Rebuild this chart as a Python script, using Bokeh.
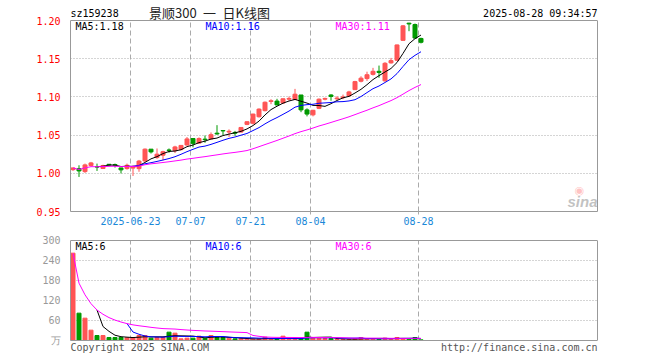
import numpy as np
import pandas as pd
from bokeh.plotting import figure
from bokeh.layouts import column
from bokeh.models import (FixedTicker, Label, Range1d, ColumnDataSource,
                          NumeralTickFormatter, LinearAxis, Span)
from bokeh.embed import file_html
from bokeh.resources import INLINE

# ---------------- data ----------------
dates = [
    "2025-06-09", "2025-06-10", "2025-06-11", "2025-06-12", "2025-06-13",
    "2025-06-16", "2025-06-17", "2025-06-18", "2025-06-19", "2025-06-20",
    "2025-06-23", "2025-06-24", "2025-06-25", "2025-06-26", "2025-06-27",
    "2025-06-30", "2025-07-01", "2025-07-02", "2025-07-03", "2025-07-04",
    "2025-07-07", "2025-07-08", "2025-07-09", "2025-07-10", "2025-07-11",
    "2025-07-14", "2025-07-15", "2025-07-16", "2025-07-17", "2025-07-18",
    "2025-07-21", "2025-07-22", "2025-07-23", "2025-07-24", "2025-07-25",
    "2025-07-28", "2025-07-29", "2025-07-30", "2025-07-31", "2025-08-01",
    "2025-08-04", "2025-08-05", "2025-08-06", "2025-08-07", "2025-08-08",
    "2025-08-11", "2025-08-12", "2025-08-13", "2025-08-14", "2025-08-15",
    "2025-08-18", "2025-08-19", "2025-08-20", "2025-08-21", "2025-08-22",
    "2025-08-25", "2025-08-26", "2025-08-27", "2025-08-28",
]
opens = [
    1.0048, 1.0061, 1.0022, 1.0101, 1.0086, 1.0063, 1.0118, 1.0115, 1.0070, 1.0062,
    1.0068, 1.0061, 1.0162, 1.0316, 1.0206, 1.0237, 1.0305, 1.0295, 1.0310, 1.0370,
    1.0455, 1.0395, 1.0447, 1.0450, 1.0525, 1.0560, 1.0540, 1.0535, 1.0540, 1.0640,
    1.0655, 1.0740, 1.0820, 1.0940, 1.0945, 1.0920, 1.0970, 1.0965, 1.1025, 1.0830,
    1.0765, 1.0850, 1.0970, 1.1025, 1.0975, 1.0990, 1.1015, 1.1095, 1.1205, 1.1240,
    1.1295, 1.1335, 1.1210, 1.1445, 1.1480, 1.1740, 1.1965, 1.1947, 1.1765,
]
highs = [
    1.0075, 1.0105, 1.0127, 1.0149, 1.0127, 1.0112, 1.0120, 1.0127, 1.0072, 1.0127,
    1.0105, 1.0175, 1.0325, 1.0318, 1.0325, 1.0295, 1.0325, 1.0360, 1.0370, 1.0475,
    1.0458, 1.0470, 1.0495, 1.0535, 1.0630, 1.0565, 1.0575, 1.0555, 1.0605, 1.0680,
    1.0780, 1.0850, 1.0940, 1.0970, 1.0975, 1.0980, 1.1005, 1.1105, 1.1025, 1.0850,
    1.0830, 1.0980, 1.0990, 1.1035, 1.1010, 1.1030, 1.1080, 1.1210, 1.1270, 1.1330,
    1.1380, 1.1410, 1.1455, 1.1510, 1.1685, 1.1940, 1.1970, 1.1960, 1.1775,
]
lows = [
    1.0031, 0.9952, 1.0005, 1.0092, 1.0031, 1.0057, 1.0092, 1.0075, 0.9998, 1.0048,
    0.9965, 1.0020, 1.0150, 1.0259, 1.0190, 1.0170, 1.0270, 1.0265, 1.0300, 1.0365,
    1.0340, 1.0385, 1.0400, 1.0445, 1.0505, 1.0500, 1.0475, 1.0490, 1.0535, 1.0630,
    1.0640, 1.0730, 1.0810, 1.0905, 1.0890, 1.0910, 1.0950, 1.0960, 1.0800, 1.0745,
    1.0745, 1.0840, 1.0955, 1.0950, 1.0960, 1.0970, 1.1000, 1.1090, 1.1190, 1.1210,
    1.1280, 1.1250, 1.1200, 1.1435, 1.1475, 1.1735, 1.1860, 1.1765, 1.1700,
]
closes = [
    1.0070, 1.0031, 1.0110, 1.0136, 1.0082, 1.0102, 1.0108, 1.0105, 1.0045, 1.0105,
    1.0085, 1.0160, 1.0316, 1.0280, 1.0250, 1.0283, 1.0300, 1.0345, 1.0365, 1.0450,
    1.0392, 1.0455, 1.0440, 1.0505, 1.0515, 1.0555, 1.0550, 1.0525, 1.0600, 1.0675,
    1.0775, 1.0840, 1.0930, 1.0950, 1.0895, 1.0975, 1.0980, 1.1035, 1.0830, 1.0775,
    1.0825, 1.0970, 1.0980, 1.1005, 1.0985, 1.1000, 1.1065, 1.1200, 1.1245, 1.1290,
    1.1335, 1.1320, 1.1440, 1.1475, 1.1680, 1.1930, 1.1955, 1.1770, 1.1715,
]
volumes = [  # 万
    262, 82, 67, 31, 15, 15, 9, 9, 9, 8,
    9, 15, 15, 7, 9, 9, 25, 22, 5, 7,
    7, 13, 7, 15, 9, 9, 7, 5, 5, 4,
    4, 5, 10, 4, 4, 13, 4, 4, 5, 25,
    7, 7, 6, 6, 3, 3, 3, 6, 9, 6,
    6, 4, 7, 6, 9, 6, 4, 9, 2,
]
tick_dates = ["2025-06-23", "2025-07-07", "2025-07-21", "2025-08-04", "2025-08-28"]
tick_labels = ["2025-06-23", "07-07", "07-21", "08-04", "08-28"]
price_ticks = [0.95, 1.00, 1.05, 1.10, 1.15, 1.20]
vol_ticks = [0, 60, 120, 180, 240, 300]
vol_tick_labels = ["万", "60", "120", "180", "240", "300"]
ma_price_text = ["MA5:1.18", "MA10:1.16", "MA30:1.11"]
ma_vol_text = ["MA5:6", "MA10:6", "MA30:6"]

# ---------------- derived ----------------
RED = "#ff5555"
GREEN = "#009900"
GRID = "#aaaaaa"
BORDER = "#999999"
MONO = "DejaVu Sans Mono"

n = len(dates)
xs = np.arange(n) + 2.5 / 6.0
o = np.array(opens); c = np.array(closes)
colors = [RED if cc >= oo else GREEN for oo, cc in zip(o, c)]
cs = pd.Series(closes)
ma5 = cs.rolling(5).mean().to_numpy()
ma10 = cs.rolling(10).mean().to_numpy()
ma30 = cs.rolling(30, min_periods=1).mean().to_numpy()
vs = pd.Series(volumes, dtype=float)
vma5 = vs.rolling(5).mean().to_numpy()
vma10 = vs.rolling(10).mean().to_numpy()
vma30 = vs.rolling(30, min_periods=1).mean().to_numpy()

src = ColumnDataSource(dict(
    x=xs, o=o, h=highs, l=lows, c=c,
    top=np.maximum(o, c), bottom=np.minimum(o, c),
    color=colors, v=volumes,
))

tick_idx = [dates.index(d) for d in tick_dates]
overrides = {i: lab for i, lab in zip(tick_idx, tick_labels)}

# page geometry (pixels)
FL, FR = 70, 597
XMAX = (FR - FL) / 6.0
P_TOP, P_BOT = 20, 211           # price box on the page
PPX = 0.25 / (P_BOT - P_TOP)     # price units per pixel
P_YMAX = 1.20 + P_TOP * PPX      # frame reaches the page top (room for header text)

# ---------------- price figure ----------------
p1 = figure(width=660, height=230, output_backend="svg", toolbar_location=None,
            x_range=Range1d(0, XMAX), y_range=Range1d(0.95, P_YMAX),
            min_border_left=FL, min_border_right=660 - FR,
            min_border_top=0, min_border_bottom=230 - P_BOT)
p1.background_fill_color = "white"
p1.border_fill_color = "white"
p1.outline_line_color = None

p1.xgrid.grid_line_color = None
p1.ygrid.ticker = FixedTicker(ticks=price_ticks)
p1.ygrid.grid_line_color = GRID
p1.ygrid.grid_line_dash = "1 2"
p1.segment(x0=tick_idx, y0=[0.95] * len(tick_idx), x1=tick_idx, y1=[1.20] * len(tick_idx),
           line_color=GRID, line_dash="5 3", line_width=1)
p1.add_layout(Span(location=1.20, dimension="width", line_color=BORDER, line_width=1))

p1.segment(x0="x", y0="l", x1="x", y1="h", line_color="color", line_width=1, source=src)
p1.vbar(x="x", width=4 / 6.0, top="top", bottom="bottom", fill_color="color",
        line_color="color", line_width=1, source=src)
p1.line(xs, ma5, line_color="black", line_width=1)
p1.line(xs, ma10, line_color="#0000ff", line_width=1)
p1.line(xs, ma30, line_color="#ff00ff", line_width=1)

p1.yaxis.ticker = FixedTicker(ticks=price_ticks)
p1.yaxis.bounds = (0.95, 1.20)
p1.yaxis.formatter = NumeralTickFormatter(format="0.00")
p1.yaxis.major_label_text_color = "#ff0000"
p1.yaxis.major_label_text_font = MONO
p1.yaxis.major_label_text_font_size = "10px"
p1.yaxis.axis_line_color = BORDER
p1.yaxis.major_tick_line_color = None
p1.yaxis.minor_tick_line_color = None
p1.yaxis.major_label_standoff = 4

p1.xaxis.ticker = FixedTicker(ticks=tick_idx)
p1.xaxis.major_label_overrides = overrides
p1.xaxis.major_label_text_color = "#1a88d8"
p1.xaxis.major_label_text_font = MONO
p1.xaxis.major_label_text_font_size = "10px"
p1.xaxis.axis_line_color = BORDER
p1.xaxis.major_tick_line_color = GRID
p1.xaxis.major_tick_out = 3
p1.xaxis.major_tick_in = 0
p1.xaxis.minor_tick_line_color = None
p1.xaxis.major_label_standoff = 2

r1 = LinearAxis(ticker=FixedTicker(ticks=[]), bounds=(0.95, 1.20),
                axis_line_color=BORDER, major_tick_line_color=None,
                minor_tick_line_color=None, major_label_text_font_size="0px")
p1.add_layout(r1, "right")


def d1(px, py):
    return ((px - FL) / 6.0, 1.20 - (py - P_TOP) * PPX)


def lab(fig, pos, text, color="black", align="left", size="10px", font=MONO,
        style="normal", alpha=1.0):
    x, y = pos
    fig.add_layout(Label(x=x, y=y, text=text, text_color=color, text_align=align,
                         text_baseline="middle", text_font_size=size, text_font=font,
                         text_font_style=style, text_alpha=alpha))


lab(p1, d1(70, 13), "sz159238")
lab(p1, d1(209, 12), "景顺300\u2002一\u2002日K线图", color="#222222", align="center",
    size="13px", font="Noto Sans CJK SC")
lab(p1, d1(597, 13), "2025-08-28 09:34:57", align="right")
lab(p1, d1(75, 26), ma_price_text[0], color="black")
lab(p1, d1(205, 26), ma_price_text[1], color="#0000ff")
lab(p1, d1(335, 26), ma_price_text[2], color="#ff00ff")
lab(p1, d1(579, 190), "◉", color="#ff8888", align="center", size="11px",
    font="DejaVu Sans", alpha=0.5)
lab(p1, d1(582, 201), "sina", color="#999999", align="center", size="15px",
    font="Liberation Sans", style="bold italic", alpha=0.6)

# ---------------- volume figure ----------------
# figure covers page y 230..360; volume box is page y 240..340 (0..300, 3 units/px)
p2 = figure(width=660, height=130, output_backend="svg", toolbar_location=None,
            x_range=Range1d(0, XMAX), y_range=Range1d(-60, 330),
            min_border_left=FL, min_border_right=660 - FR,
            min_border_top=0, min_border_bottom=0)
p2.background_fill_color = "white"
p2.border_fill_color = "white"
p2.outline_line_color = None

p2.xgrid.grid_line_color = None
p2.ygrid.ticker = FixedTicker(ticks=vol_ticks)
p2.ygrid.grid_line_color = GRID
p2.ygrid.grid_line_dash = "1 2"
p2.segment(x0=tick_idx, y0=[0] * len(tick_idx), x1=tick_idx, y1=[300] * len(tick_idx),
           line_color=GRID, line_dash="5 3", line_width=1)
p2.add_layout(Span(location=300, dimension="width", line_color=BORDER, line_width=1))
p2.add_layout(Span(location=0, dimension="width", line_color=BORDER, line_width=1))

p2.vbar(x="x", width=4 / 6.0, top="v", bottom=0, fill_color="color",
        line_color="color", line_width=1, source=src)
p2.line(xs, vma5, line_color="black", line_width=1)
p2.line(xs, vma10, line_color="#0000ff", line_width=1)
p2.line(xs, vma30, line_color="#ff00ff", line_width=1)

p2.yaxis.ticker = FixedTicker(ticks=vol_ticks)
p2.yaxis.bounds = (0, 300)
p2.yaxis.major_label_overrides = {t: s for t, s in zip(vol_ticks, vol_tick_labels)}
p2.yaxis.major_label_text_color = "#999999"
p2.yaxis.major_label_text_font = MONO
p2.yaxis.major_label_text_font_size = "10px"
p2.yaxis.axis_line_color = BORDER
p2.yaxis.major_tick_line_color = None
p2.yaxis.minor_tick_line_color = None
p2.yaxis.major_label_standoff = 4
p2.xaxis.visible = False

r2 = LinearAxis(ticker=FixedTicker(ticks=[]), bounds=(0, 300),
                axis_line_color=BORDER, major_tick_line_color=None,
                minor_tick_line_color=None, major_label_text_font_size="0px")
p2.add_layout(r2, "right")


def d2(px, py):
    # py in page pixels; volume 0 is at page y 340
    return ((px - FL) / 6.0, (340 - py) * 3.0)


lab(p2, d2(75, 246), ma_vol_text[0], color="black")
lab(p2, d2(205, 246), ma_vol_text[1], color="#0000ff")
lab(p2, d2(335, 246), ma_vol_text[2], color="#ff00ff")
lab(p2, d2(70, 347), "Copyright 2025 SINA.COM", color="#555555")
lab(p2, d2(597, 347), "http://finance.sina.com.cn", color="#555555", align="right")

layout = column(p1, p2)
open("out.html", "w").write(file_html(layout, INLINE))
